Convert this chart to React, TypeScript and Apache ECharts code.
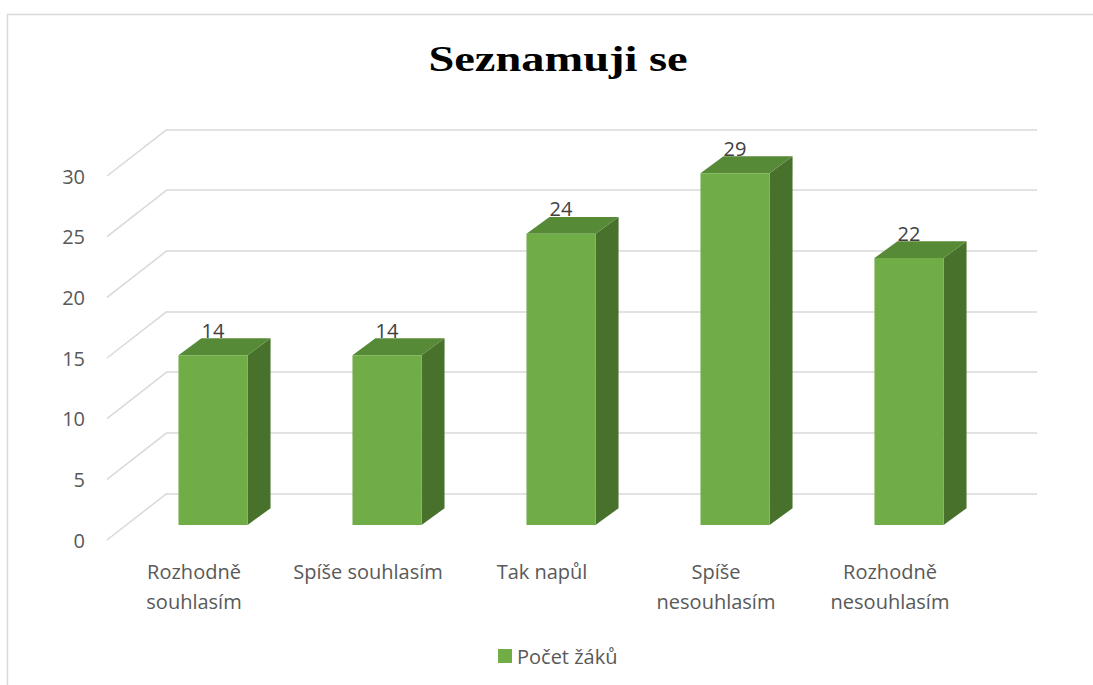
import React, { useEffect, useRef } from "react";
import * as echarts from "echarts";

const categories = [
  "Rozhodně\nsouhlasím",
  "Spíše souhlasím",
  "Tak napůl",
  "Spíše\nnesouhlasím",
  "Rozhodně\nnesouhlasím",
];
const values = [14, 14, 24, 29, 22];
const yTicks = [0, 5, 10, 15, 20, 25, 30];
const seriesName = "Počet žáků";
const chartTitle = "Seznamuji se";

const FONT = '"Open Sans", "Noto Sans", sans-serif';
const TEXT = "#595959";
const GRID_LINE = "#D9D9D9";
const FRONT = "#70AD47";
const TOP = "#568A36";
const SIDE = "#48722C";

// plane geometry (oblique projection)
const PLOT_W = 870;
const PLOT_H = 364;
const BAR_PLANE = { left: 126, top: 161 };
const FLOOR_FRONT = { left: 107, top: 176 };
const BACK_WALL = { left: 167, top: 129.3 };
const BAR_DEPTH_X = 23;
const BAR_DEPTH_Y = -16.8;
const BAR_RATIO = 0.397;

export default function App() {
  const ref = useRef<HTMLDivElement>(null);

  useEffect(() => {
    if (!ref.current) return;
    const chart = echarts.init(ref.current, null, { renderer: "svg" });

    const wallDx = BACK_WALL.left - FLOOR_FRONT.left;
    const wallDy = BACK_WALL.top - FLOOR_FRONT.top;

    const valueAxis = (idx: number, showLabel: boolean, showSplit: boolean) => ({
      type: "value",
      gridIndex: idx,
      min: 0,
      max: 30,
      interval: 5,
      axisLine: { show: false },
      axisTick: { show: false },
      axisLabel: {
        show: showLabel,
        fontSize: 20,
        fontFamily: FONT,
        color: TEXT,
        margin: 22,
      },
      splitLine: {
        show: showSplit,
        lineStyle: { color: GRID_LINE, width: 1.5 },
      },
    });

    const catAxis = (idx: number, showLabel: boolean) => ({
      type: "category",
      gridIndex: idx,
      data: categories,
      axisLine: { show: false },
      axisTick: { show: false },
      splitLine: { show: false },
      axisLabel: {
        show: showLabel,
        interval: 0,
        fontSize: 20,
        lineHeight: 30,
        fontFamily: FONT,
        color: TEXT,
        margin: 16,
        verticalAlign: "top",
      },
    });

    chart.setOption({
      animation: false,
      backgroundColor: "#fff",
      textStyle: { fontFamily: FONT },
      grid: [
        { left: BAR_PLANE.left, top: BAR_PLANE.top, width: PLOT_W, height: PLOT_H },
        { left: FLOOR_FRONT.left, top: FLOOR_FRONT.top, width: PLOT_W, height: PLOT_H },
        { left: BACK_WALL.left, top: BACK_WALL.top, width: PLOT_W, height: PLOT_H },
      ],
      xAxis: [catAxis(0, false), catAxis(1, true), catAxis(2, false)],
      yAxis: [valueAxis(0, false, false), valueAxis(1, true, false), valueAxis(2, false, true)],
      legend: {
        data: [seriesName],
        left: 498,
        top: 646,
        padding: 0,
        itemWidth: 14,
        itemHeight: 14,
        icon: "rect",
        textStyle: { fontSize: 20, fontFamily: FONT, color: TEXT },
      },
      graphic: [
        {
          type: "rect",
          silent: true,
          shape: { x: 7.5, y: 14.5, width: 1200, height: 800 },
          style: { fill: "none", stroke: GRID_LINE, lineWidth: 1.5 },
        },
        {
          type: "text",
          x: 558,
          y: 59,
          scaleX: 1.29,
          style: {
            text: chartTitle,
            font: 'bold 36px "Liberation Serif", "Times New Roman", serif',
            fill: "#000",
            align: "center",
            verticalAlign: "middle",
            textAlign: "center",
            textVerticalAlign: "middle",
          },
        },
      ],
      series: [
        {
          type: "custom",
          name: "wall-diagonals",
          xAxisIndex: 1,
          yAxisIndex: 1,
          silent: true,
          data: yTicks.map((v) => [0, v]),
          renderItem: (params: any, api: any) => {
            const y = api.coord([0, api.value(1)])[1];
            const x = params.coordSys.x;
            return {
              type: "line",
              shape: { x1: x, y1: y, x2: x + wallDx, y2: y + wallDy },
              style: { stroke: GRID_LINE, lineWidth: 1.5 },
            };
          },
        },
        {
          type: "custom",
          name: seriesName,
          xAxisIndex: 0,
          yAxisIndex: 0,
          itemStyle: { color: FRONT },
          data: values.map((v, i) => [i, v]),
          renderItem: (params: any, api: any) => {
            const i = api.value(0);
            const v = api.value(1);
            const top = api.coord([i, v]);
            const base = api.coord([i, 0]);
            const bw = api.size([1, 0])[0] * BAR_RATIO;
            const x0 = top[0] - bw / 2;
            const x1 = top[0] + bw / 2;
            const dx = BAR_DEPTH_X;
            const dy = BAR_DEPTH_Y;
            return {
              type: "group",
              children: [
                {
                  type: "polygon",
                  shape: {
                    points: [
                      [x1, base[1]],
                      [x1 + dx, base[1] + dy],
                      [x1 + dx, top[1] + dy],
                      [x1, top[1]],
                    ],
                  },
                  style: { fill: SIDE },
                },
                {
                  type: "polygon",
                  shape: {
                    points: [
                      [x0, top[1]],
                      [x0 + dx, top[1] + dy],
                      [x1 + dx, top[1] + dy],
                      [x1, top[1]],
                    ],
                  },
                  style: { fill: TOP },
                },
                {
                  type: "rect",
                  shape: { x: x0, y: top[1], width: bw, height: base[1] - top[1] },
                  style: { fill: FRONT },
                },
                {
                  type: "text",
                  x: top[0],
                  y: top[1] - 25,
                  style: {
                    text: String(v),
                    font: `20px ${FONT}`,
                    fill: "#404040",
                    align: "center",
                    verticalAlign: "middle",
                    textAlign: "center",
                    textVerticalAlign: "middle",
                  },
                },
              ],
            };
          },
        },
      ],
    });

    return () => chart.dispose();
  }, []);

  return (
    <div
      ref={ref}
      style={{ position: "absolute", left: 0, top: 0, width: 1093, height: 685 }}
    />
  );
}
